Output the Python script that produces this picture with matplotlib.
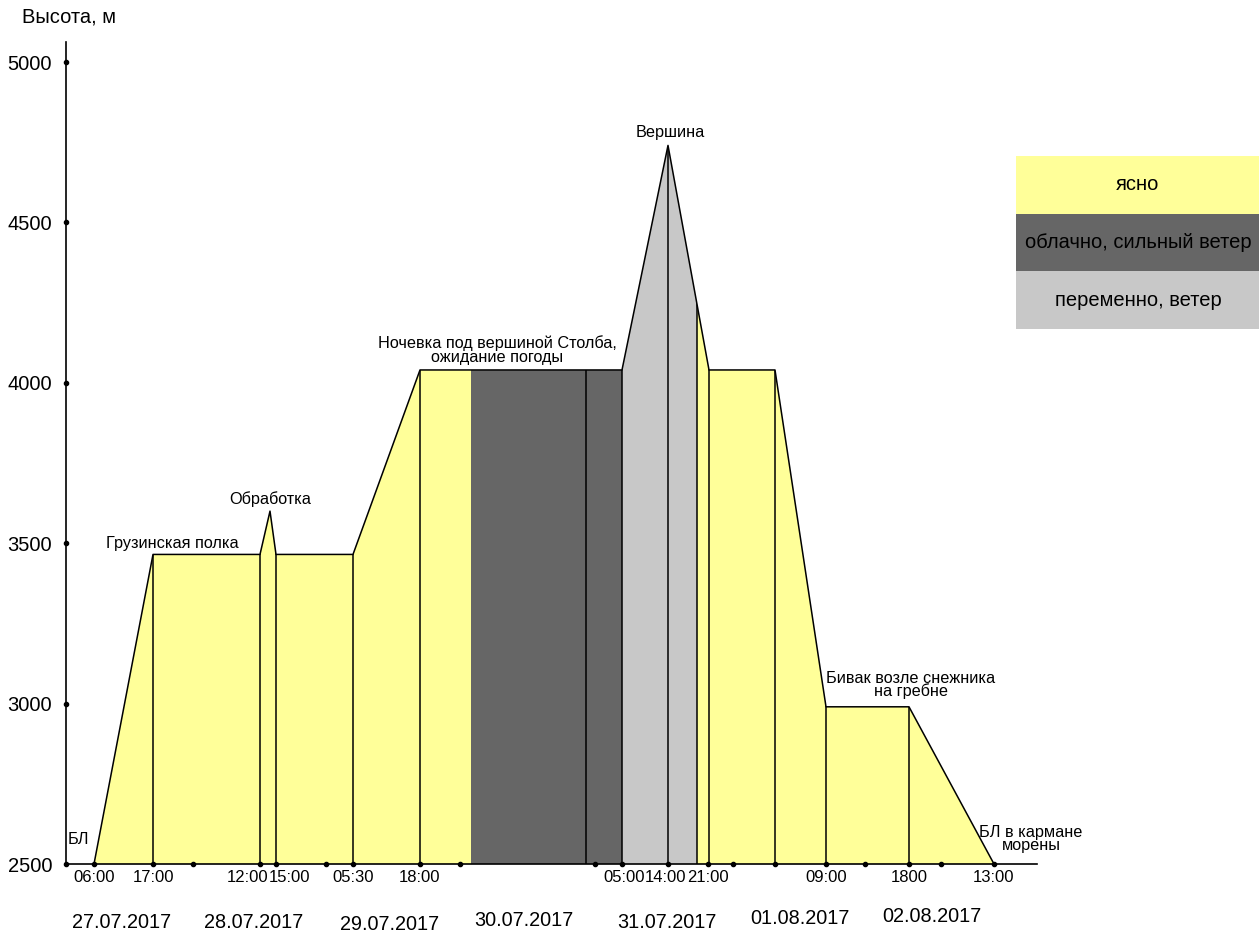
import matplotlib
matplotlib.use("Agg")
import matplotlib.pyplot as plt
from matplotlib.patches import Polygon, Rectangle

plt.rcParams["font.family"] = ["Liberation Sans", "DejaVu Sans"]

# altitude profile along the route (x = position on the drawn track)
track_x = [94, 153, 260, 270, 276, 353, 420, 622, 668, 709, 775, 826, 909, 994]
altitude = [2500, 3465, 3465, 3600, 3465, 3465, 4040, 4040, 4740, 4040, 4040, 2990, 2990, 2500]

# weather bands
band_edges = [(94, 471), (471, 622), (622, 697), (697, 994)]
band_kind = ["clear", "cloudy", "variable", "clear"]
weather_colors = {"clear": "#FFFF99", "cloudy": "#666666", "variable": "#C8C8C8"}
weather_names = {"clear": "ясно", "cloudy": "облачно, сильный ветер", "variable": "переменно, ветер"}

# separators between stages
stage_x = [153, 260, 276, 353, 420, 586, 622, 668, 697, 709, 775, 826, 909]

# small dots on the time axis
dot_x = [94, 153, 193, 260, 276, 326, 353, 420, 460, 595, 622, 668, 708,
         733, 775, 826, 865, 909, 941, 994]

time_x = [94, 154, 248, 289, 353, 420, 624, 666, 708, 826, 909, 994]
time_labels = ["06:00", "17:00", "12:00", "15:00", "05:30", "18:00",
               "05:00", "14:00", "21:00", "09:00", "1800", "13:00"]

date_x = [122, 254, 390, 524, 667, 800, 932]
date_dy = [-59, -59, -61, -57, -58, -55, -53]
date_labels = ["27.07.2017", "28.07.2017", "29.07.2017", "30.07.2017",
               "31.07.2017", "01.08.2017", "02.08.2017"]

alt_ticks = [2500, 3000, 3500, 4000, 4500, 5000]

notes = [
    (172, 3500, "Грузинская полка", 0.95),
    (270, 3638, "Обработка", 0.95),
    (497, 4102, "Ночевка под вершиной Столба,\nожидание погоды", 0.9),
    (670, 4779, "Вершина", 0.95),
    (911, 3058, "Бивак возле снежника\nна гребне", 0.85),
    (1031, 2578, "БЛ в кармане\nморены", 0.8),
]

W, H = 1259, 936
fig = plt.figure(figsize=(W / 100, H / 100), dpi=100)
ax = fig.add_axes([66 / W, 72 / H, (1037 - 66) / W, (864 - 42) / H])
ax.set_xlim(66, 1037)
ax.set_ylim(2500, 2500 + 822 / 0.3208)

# profile polygon, used as the clip shape for the coloured bands
outline = Polygon(list(zip(track_x, altitude)), closed=True, facecolor="none",
                  edgecolor="none")
ax.add_patch(outline)

for (x0, x1), kind in zip(band_edges, band_kind):
    span = ax.axvspan(x0, x1, color=weather_colors[kind], lw=0, zorder=1)
    span.set_clip_path(outline)

lines = ax.vlines(stage_x, 2500, 5000, color="black", lw=1.1, zorder=2)
lines.set_clip_path(outline)

ax.plot(track_x, altitude, color="black", lw=1.1, zorder=3)

# axes look
for side in ["top", "right"]:
    ax.spines[side].set_visible(False)
ax.spines["left"].set_linewidth(1.2)
ax.spines["bottom"].set_linewidth(1.2)

ax.set_yticks(alt_ticks)
ax.set_yticklabels([str(v) for v in alt_ticks], fontsize=14.5)
ax.tick_params(axis="y", length=0, pad=10)
ax.plot([66] * len(alt_ticks), alt_ticks, "o", color="black", ms=3,
        clip_on=False, zorder=5)

ax.set_xticks(time_x)
ax.set_xticklabels(time_labels, fontsize=12)
ax.tick_params(axis="x", length=0, pad=4)
ax.plot(dot_x, [2500] * len(dot_x), "o", color="black", ms=3,
        clip_on=False, zorder=5)

for x, dy, lab in zip(date_x, date_dy, date_labels):
    ax.annotate(lab, xy=(x, 0), xycoords=("data", "axes fraction"),
                xytext=(0, dy), textcoords="offset pixels",
                ha="center", va="center", fontsize=14.3, annotation_clip=False)

fig.text(22 / W, 1 - 17 / H, "Высота, м", fontsize=14.5, ha="left", va="center")

for x, y, txt, ls in notes:
    ax.text(x, y, txt, ha="center", va="center", fontsize=11.7,
            linespacing=ls, zorder=6)
ax.text(68, 2575, "БЛ", ha="left", va="center", fontsize=11.7, zorder=6)

# legend: stacked colour boxes with captions
box_top, box_h = 156, 57.7
for i, kind in enumerate(["clear", "cloudy", "variable"]):
    y0 = box_top + i * box_h
    fig.add_artist(Rectangle((1016 / W, 1 - (y0 + box_h) / H), (W - 1016) / W,
                             box_h / H, transform=fig.transFigure,
                             facecolor=weather_colors[kind], edgecolor="none"))
    fig.text(1138 / W, 1 - (y0 + box_h / 2) / H, weather_names[kind],
             ha="center", va="center", fontsize=14.5)

fig.savefig("out.png", dpi=100)
